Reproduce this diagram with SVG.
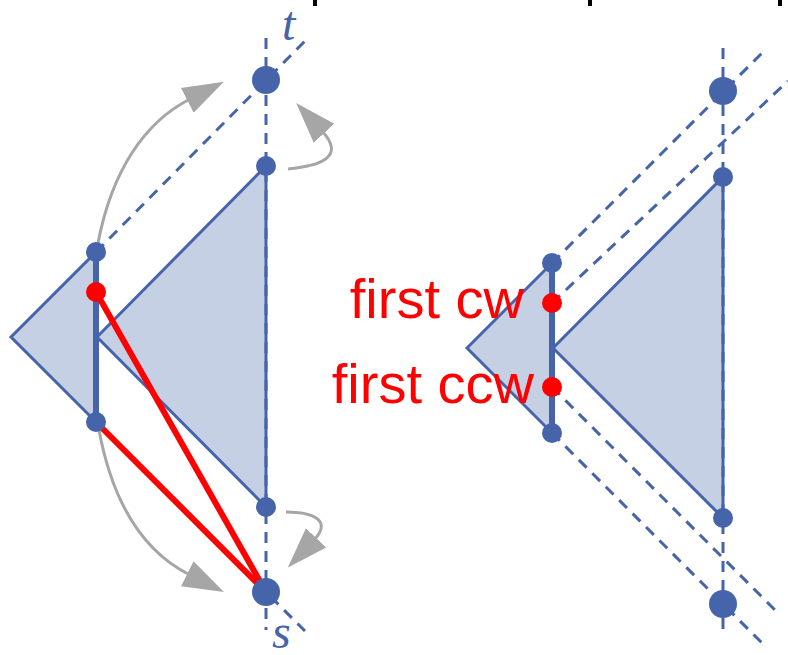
<svg xmlns="http://www.w3.org/2000/svg" width="788" height="655" viewBox="0 0 788 655">
<style>
.tri{fill:#c5d0e4;stroke:#4664aa;stroke-width:3;stroke-linejoin:miter}
.dash{fill:none;stroke:#4664aa;stroke-width:3;stroke-dasharray:11 8}
.seg{stroke:#4664aa;stroke-width:6}
.red{stroke:#ff0000;stroke-width:6;stroke-linecap:round}
.dot{fill:#4664aa}
.rdot{fill:#ff0000}
.arc{fill:none;stroke:#a6a6a6;stroke-width:3;marker-end:url(#ah)}
.lbl{font-family:"Liberation Serif",serif;font-style:italic;font-size:48px;fill:#4664aa}
.rtx{font-family:"Liberation Sans",Arial,sans-serif;font-size:56px;fill:#ff0000;text-anchor:end}
</style>
<defs>
<marker id="ah" markerUnits="userSpaceOnUse" markerWidth="44" markerHeight="30" refX="3" refY="14" orient="auto" viewBox="0 0 44 28">
<path d="M0,0 L41,14 L0,28 Z" fill="#a6a6a6"/>
</marker>
</defs>
<g id="top-marks">
<rect x="313" y="0" width="4" height="6" fill="#000"/>
<rect x="588" y="0" width="4" height="6" fill="#000"/>
<rect x="778" y="0" width="4" height="6" fill="#000"/>
</g>
<g id="left-small-triangle"><polygon class="tri" points="11,337 96,252 96,422"/></g>
<g id="left-big-triangle"><polygon class="tri" points="97,337 266,166 266,507"/></g>
<g id="right-small-triangle"><polygon class="tri" points="467,348 552,263 552,433"/></g>
<g id="right-big-triangle"><polygon class="tri" points="553,348 723,177 723,518"/></g>
<g id="connectors">
<line class="dash" x1="266" y1="38" x2="266" y2="630"/>
<line class="dash" x1="96" y1="252" x2="305" y2="41"/>
<line class="dash" x1="96" y1="422" x2="305" y2="631"/>
<line class="dash" x1="723" y1="48" x2="723" y2="636"/>
<line class="dash" x1="552" y1="263" x2="763" y2="52"/>
<line class="dash" x1="552" y1="303" x2="788" y2="81"/>
<line class="dash" x1="552" y1="433" x2="762" y2="643"/>
<line class="dash" x1="552" y1="387" x2="775" y2="610"/>
<line class="seg" x1="96" y1="252" x2="96" y2="422"/>
<line class="seg" x1="552" y1="263" x2="552" y2="433"/>
<line class="red" x1="96" y1="292" x2="266" y2="592"/>
<line class="red" x1="96" y1="422" x2="266" y2="592"/>
<path class="arc" d="M98,243 C112,170 145,122 190,99"/>
<path class="arc" d="M288,169 C318,166 347,158 322,131"/>
<path class="arc" d="M99,430 C112,500 140,550 190,575"/>
<path class="arc" d="M286,512 C312,512 333,520 314,540"/>
</g>
<g id="node-t"><circle class="dot" cx="266" cy="80" r="14"/><text class="lbl" x="282" y="40">t</text></g>
<g id="node-s"><circle class="dot" cx="266" cy="592" r="14"/><text class="lbl" x="272" y="648">s</text></g>
<g id="left-dots">
<circle class="dot" cx="266" cy="166" r="10"/>
<circle class="dot" cx="266" cy="507" r="10"/>
<circle class="dot" cx="96" cy="252" r="10"/>
<circle class="dot" cx="96" cy="422" r="10"/>
<circle class="rdot" cx="96" cy="292" r="10"/>
</g>
<g id="right-dots">
<circle class="dot" cx="723" cy="91" r="14"/>
<circle class="dot" cx="723" cy="604" r="14"/>
<circle class="dot" cx="723" cy="177" r="10"/>
<circle class="dot" cx="723" cy="518" r="10"/>
<circle class="dot" cx="552" cy="263" r="10"/>
<circle class="dot" cx="552" cy="433" r="10"/>
</g>
<g id="first-cw"><circle class="rdot" cx="552" cy="303" r="10"/><text class="rtx" x="524" y="318">first cw</text></g>
<g id="first-ccw"><circle class="rdot" cx="552" cy="387" r="10"/><text class="rtx" x="534" y="403">first ccw</text></g>
</svg>
